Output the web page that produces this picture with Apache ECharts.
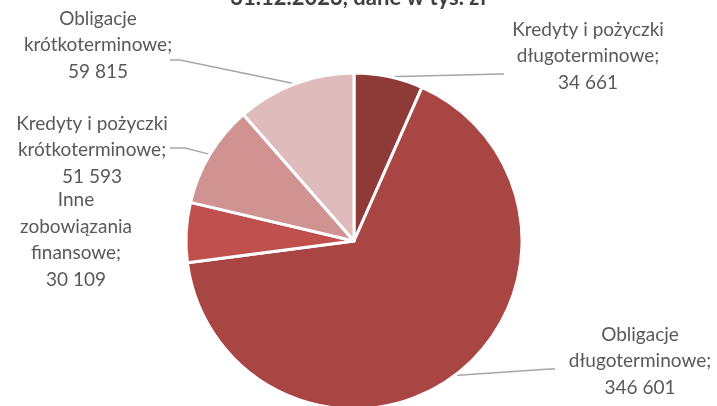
<!DOCTYPE html>
<html><head><meta charset="utf-8">
<script src="https://cdn.jsdelivr.net/npm/echarts@6/dist/echarts.min.js"></script>
<style>html,body{margin:0;padding:0;background:#fff}#c{width:717px;height:406px}</style>
</head><body><div id="c"></div>
<script>
var titleText = '31.12.2023, dane w tys. zł';
var categories = ['Kredyty i pożyczki\ndługoterminowe', 'Obligacje\ndługoterminowe', 'Inne\nzobowiązania\nfinansowe', 'Kredyty i pożyczki\nkrótkoterminowe', 'Obligacje\nkrótkoterminowe'];
var values = [34661, 346601, 30109, 51593, 59815];
var colors = ['#8E3A37', '#A94542', '#C0504D', '#D09392', '#E0BBBB'];

var labelPos = [[588, 56], [640, 361], [76, 240], [92, 150], [98, 45]];
var leaderEnds = [[[500, 74], [504, 74]], [[550, 369], [555, 369]], null, [[185, 148], [170, 148]], [[180, 60], [170, 60]]];

function fmt(v) { return String(v).replace(/\B(?=(\d{3})+(?!\d))/g, ' '); }

var chart = echarts.init(document.getElementById('c'));
chart.setOption({
  animation: false,
  title: { text: titleText, left: 'center', top: -18, textStyle: { fontFamily: 'Lato', fontWeight: 'bold', fontSize: 22, color: '#404040' } },
  series: [{
    type: 'pie',
    center: [354, 241],
    radius: [0, 168],
    startAngle: 90,
    clockwise: true,
    data: categories.map(function (n, i) {
      return { name: n, value: values[i], itemStyle: { color: colors[i] }, labelLine: { show: i !== 2 } };
    }),
    itemStyle: { borderColor: '#fff', borderWidth: 3 },
    label: {
      show: true,
      formatter: function (p) { return p.name + ';\n' + fmt(p.value); },
      fontFamily: 'Lato', fontSize: 19, color: '#595959', lineHeight: 26.5, align: 'center'
    },
    labelLine: { show: true, length: 15, length2: 15, lineStyle: { color: '#A6A6A6', width: 1.5 } },
    labelLayout: function (p) {
      var pos = labelPos[p.dataIndex];
      var out = { x: pos[0], y: pos[1], align: 'center', verticalAlign: 'middle' };
      var ends = leaderEnds[p.dataIndex];
      if (ends && p.labelLinePoints) {
        out.labelLinePoints = [p.labelLinePoints[0], ends[0], ends[1]];
      }
      return out;
    }
  }]
});
</script></body></html>
